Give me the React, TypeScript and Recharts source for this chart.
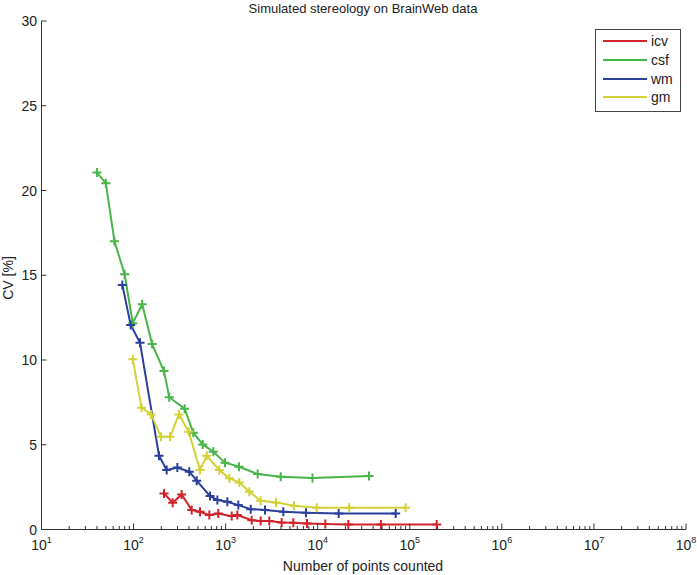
import { LineChart, Line, XAxis, YAxis } from "recharts";

const icvX = [214, 266, 333, 428, 527, 665, 832, 1164, 1340, 1920, 2403, 2980, 4060, 5430, 7650, 12100, 21500, 48600, 196000];
const icvY = [2.13, 1.58, 2.07, 1.15, 1.05, 0.85, 0.95, 0.79, 0.85, 0.55, 0.5, 0.5, 0.42, 0.4, 0.36, 0.32, 0.3, 0.3, 0.3];

const csfX = [40, 50, 62, 80, 98, 124, 159, 214, 244, 359, 445, 563, 735, 984, 1396, 2228, 3963, 8780, 36060];
const csfY = [21.06, 20.43, 17.0, 15.06, 12.17, 13.29, 10.94, 9.35, 7.8, 7.13, 5.71, 5.02, 4.59, 3.94, 3.7, 3.27, 3.11, 3.04, 3.15];

const wmX = [75.5, 93, 117.5, 189, 229, 299, 403, 485, 677, 813, 1043, 1373, 1872, 2675, 4230, 7460, 16900, 70300];
const wmY = [14.43, 12.07, 11.02, 4.35, 3.51, 3.66, 3.41, 2.88, 1.97, 1.74, 1.64, 1.44, 1.2, 1.15, 1.05, 0.99, 0.95, 0.95];

const gmX = [98, 122, 155, 199, 249, 311, 397, 526, 622, 853, 1096, 1407, 1806, 2403, 3527, 5520, 9750, 22000, 90200];
const gmY = [10.04, 7.19, 6.79, 5.47, 5.47, 6.79, 5.77, 3.51, 4.35, 3.51, 3.02, 2.78, 2.23, 1.69, 1.6, 1.4, 1.28, 1.28, 1.28];

const yTicks = [0, 5, 10, 15, 20, 25, 30];
const decades = [1, 2, 3, 4, 5, 6, 7];
const multipliers = [1, 2, 3, 4, 5, 6, 7, 8, 9];

const xTicks: number[] = [];
decades.forEach((d) => multipliers.forEach((m) => xTicks.push(m * Math.pow(10, d))));
xTicks.push(1e8);

const series = [
  { name: "icv", color: "#d0232b", xs: icvX, ys: icvY },
  { name: "csf", color: "#48b548", xs: csfX, ys: csfY },
  { name: "wm", color: "#2b3f9c", xs: wmX, ys: wmY },
  { name: "gm", color: "#d2d236", xs: gmX, ys: gmY },
];

const FONT = "'Liberation Sans', Arial, sans-serif";

function zip(xs: number[], ys: number[]) {
  return xs.map((x, i) => ({ x, y: ys[i] }));
}

function XTick(props: any) {
  const { x, y, payload } = props;
  const v = payload.value;
  const exp = Math.round(Math.log10(v));
  const major = Math.abs(Math.pow(10, exp) - v) < 1e-6 * v;
  return (
    <g>
      <line x1={x} x2={x} y1={y} y2={y - (major ? 6 : 3.5)} stroke="#333" strokeWidth={1} />
      {major && (
        <text x={x} y={y + 20} textAnchor="middle" fontSize={14} fill="#222" fontFamily={FONT}>
          10
          <tspan dy={-7} fontSize={9}>{exp}</tspan>
        </text>
      )}
    </g>
  );
}

function YTick(props: any) {
  const { x, y, payload } = props;
  return (
    <g>
      <line x1={x} x2={x + 5} y1={y} y2={y} stroke="#333" strokeWidth={1} />
      <text x={x - 4.5} y={y + 5} textAnchor="end" fontSize={14} fill="#222" fontFamily={FONT}>
        {payload.value}
      </text>
    </g>
  );
}

function PlusDot(props: any) {
  const { cx, cy, stroke, index } = props;
  if (cx == null || cy == null) return <g key={index} />;
  return (
    <path
      key={index}
      d={`M${cx - 4.5},${cy}h9M${cx},${cy - 4.5}v9`}
      stroke={stroke}
      strokeWidth={2}
      fill="none"
    />
  );
}

function LegendBox() {
  return (
    <div
      style={{
        position: "absolute",
        left: 595,
        top: 29,
        border: "1px solid #444",
        background: "#fff",
        width: 84,
        padding: "2px 0 4px 0",
        fontFamily: FONT,
        fontSize: 14,
        color: "#222",
      }}
    >
      {series.map((s) => (
        <div key={s.name} style={{ display: "flex", alignItems: "center", height: 18.7 }}>
          <div style={{ width: 44, height: 2, background: s.color, marginLeft: 7, marginRight: 4 }} />
          <span>{s.name}</span>
        </div>
      ))}
    </div>
  );
}

export default function App() {
  return (
    <div style={{ position: "absolute", left: 0, top: 0, width: 697, height: 575, background: "#fff" }}>
      <LineChart width={697} height={575} margin={{ top: 21, right: 11, bottom: 0, left: 0 }}>
        <text x={363} y={13} textAnchor="middle" fontSize={13} fill="#222" fontFamily={FONT}>
          Simulated stereology on BrainWeb data
        </text>
        <text x={363} y={571} textAnchor="middle" fontSize={14} fill="#222" fontFamily={FONT}>
          Number of points counted
        </text>
        <text
          x={13}
          y={278}
          transform="rotate(-90 13 278)"
          textAnchor="middle"
          fontSize={14}
          fill="#222"
          fontFamily={FONT}
        >
          CV [%]
        </text>
        <XAxis
          dataKey="x"
          type="number"
          scale="log"
          domain={[10, 1e8]}
          ticks={xTicks}
          interval={0}
          allowDataOverflow
          tickSize={0}
          tickMargin={0}
          tick={<XTick />}
          axisLine={{ stroke: "#333" }}
          height={45.5}
        />
        <YAxis
          dataKey="y"
          type="number"
          domain={[0, 30]}
          ticks={yTicks}
          interval={0}
          allowDataOverflow
          tickSize={0}
          tickMargin={0}
          tick={<YTick />}
          axisLine={{ stroke: "#333" }}
          width={41.5}
        />
        {series.map((s) => (
          <Line
            key={s.name}
            name={s.name}
            data={zip(s.xs, s.ys)}
            dataKey="y"
            type="linear"
            stroke={s.color}
            strokeWidth={2}
            dot={<PlusDot />}
            activeDot={false}
            isAnimationActive={false}
          />
        ))}
      </LineChart>
      <LegendBox />
    </div>
  );
}
